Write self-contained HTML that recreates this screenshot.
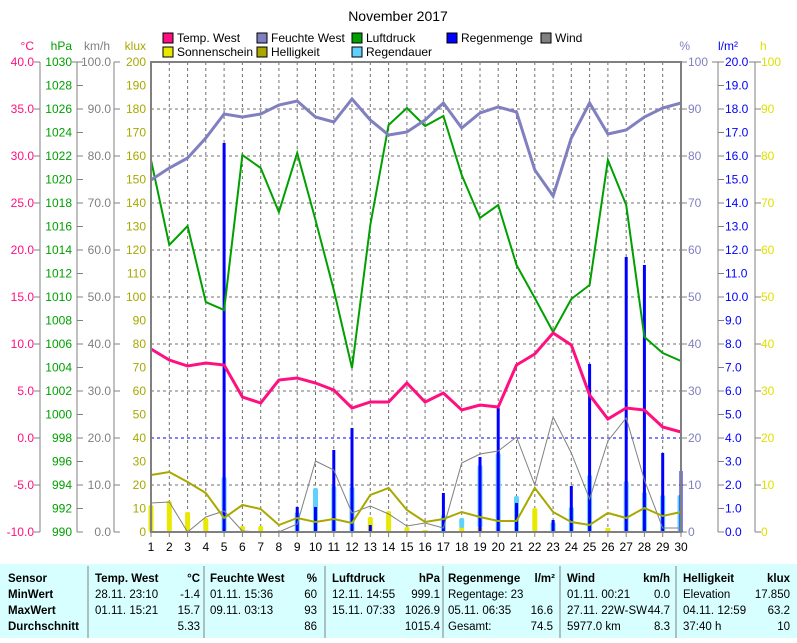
<!DOCTYPE html>
<html><head><meta charset="utf-8"><style>
body{margin:0;background:#fff;width:797px;height:638px;overflow:hidden}
svg text{font-family:"Liberation Sans",sans-serif;font-size:12px}
.t text{font-family:"Liberation Sans Narrow","Liberation Sans",sans-serif;font-size:11.5px}
</style></head><body>
<svg width="797" height="638" xmlns="http://www.w3.org/2000/svg">
<text x="398" y="21" text-anchor="middle" font-size="14" style="font-size:14px">November 2017</text>
<g font-size="12">
<rect x="163" y="33" width="10" height="10" fill="#ff1080" stroke="#000"/><text x="177" y="42">Temp. West</text>
<rect x="257" y="33" width="10" height="10" fill="#8080c0" stroke="#000"/><text x="271" y="42">Feuchte West</text>
<rect x="352" y="33" width="10" height="10" fill="#00a000" stroke="#000"/><text x="366" y="42">Luftdruck</text>
<rect x="447" y="33" width="10" height="10" fill="#0000ff" stroke="#000"/><text x="461" y="42">Regenmenge</text>
<rect x="541" y="33" width="10" height="10" fill="#808080" stroke="#000"/><text x="555" y="42">Wind</text>
<rect x="163" y="47" width="10" height="10" fill="#e8e800" stroke="#000"/><text x="177" y="56">Sonnenschein</text>
<rect x="257" y="47" width="10" height="10" fill="#a8a800" stroke="#000"/><text x="271" y="56">Helligkeit</text>
<rect x="352" y="47" width="10" height="10" fill="#60d0ff" stroke="#000"/><text x="366" y="56">Regendauer</text>
</g>
<text x="34" y="50" text-anchor="end" fill="#ff1080">°C</text>
<text x="72" y="50" text-anchor="end" fill="#00a000">hPa</text>
<text x="110" y="50" text-anchor="end" fill="#808080">km/h</text>
<text x="146" y="50" text-anchor="end" fill="#a8a800">klux</text>
<text x="690" y="50" text-anchor="end" fill="#8080c0">%</text>
<text x="738" y="50" text-anchor="end" fill="#0000ff">l/m²</text>
<text x="760" y="50" fill="#e0e000">h</text>
<g stroke="#707070" stroke-dasharray="3,3" stroke-width="1">
<path d="M151 109H681M151 156H681M151 203H681M151 250H681M151 297H681M151 344H681M151 391H681M151 485H681"/>
<path d="M169.3 62V532M187.6 62V532M205.8 62V532M224.1 62V532M242.4 62V532M260.7 62V532M278.9 62V532M297.2 62V532M315.5 62V532M333.8 62V532M352 62V532M370.3 62V532M388.6 62V532M406.9 62V532M425.1 62V532M443.4 62V532M461.7 62V532M480 62V532M498.2 62V532M516.5 62V532M534.8 62V532M553.1 62V532M571.3 62V532M589.6 62V532M607.9 62V532M626.2 62V532M644.4 62V532M662.7 62V532"/>
</g>
<path d="M151 438H681" stroke="#0000ff" stroke-dasharray="3,3"/>
<g stroke="#808080" fill="none">
<path d="M40 62V532M77 62V532M114 62V532M718 62V532M755 62V532"/>
<path d="M34 62h6M34 109h6M34 156h6M34 203h6M34 250h6M34 297h6M34 344h6M34 391h6M34 438h6M34 485h6M34 532h6"/>
<path d="M72 62h11M77 85.5h6M77 109h6M77 132.5h6M77 156h6M77 179.5h6M77 203h6M77 226.5h6M77 250h6M77 273.5h6M77 297h6M77 320.5h6M77 344h6M77 367.5h6M77 391h6M77 414.5h6M77 438h6M77 461.5h6M77 485h6M77 508.5h6M77 532h6"/>
<path d="M114 62h6M114 109h6M114 156h6M114 203h6M114 250h6M114 297h6M114 344h6M114 391h6M114 438h6M114 485h6M114 532h6"/>
<path d="M681 62h6M681 109h6M681 156h6M681 203h6M681 250h6M681 297h6M681 344h6M681 391h6M681 438h6M681 485h6M681 532h6"/>
<path d="M712 62h12M718 85.5h6M718 109h6M718 132.5h6M718 156h6M718 179.5h6M718 203h6M718 226.5h6M718 250h6M718 273.5h6M718 297h6M718 320.5h6M718 344h6M718 367.5h6M718 391h6M718 414.5h6M718 438h6M718 461.5h6M718 485h6M718 508.5h6M718 532h6"/>
<path d="M749 62h12M755 109h6M755 156h6M755 203h6M755 250h6M755 297h6M755 344h6M755 391h6M755 438h6M755 485h6M755 532h6"/>
</g>
<g text-anchor="end" fill="#ff1080">
<text x="34" y="66">40.0</text><text x="34" y="113">35.0</text><text x="34" y="160">30.0</text><text x="34" y="207">25.0</text><text x="34" y="254">20.0</text><text x="34" y="301">15.0</text><text x="34" y="348">10.0</text><text x="34" y="395">5.0</text><text x="34" y="442">0.0</text><text x="34" y="489">-5.0</text><text x="34" y="536">-10.0</text>
</g>
<g text-anchor="end" fill="#00a000">
<text x="72" y="66">1030</text><text x="72" y="89.5">1028</text><text x="72" y="113">1026</text><text x="72" y="136.5">1024</text><text x="72" y="160">1022</text><text x="72" y="183.5">1020</text><text x="72" y="207">1018</text><text x="72" y="230.5">1016</text><text x="72" y="254">1014</text><text x="72" y="277.5">1012</text><text x="72" y="301">1010</text><text x="72" y="324.5">1008</text><text x="72" y="348">1006</text><text x="72" y="371.5">1004</text><text x="72" y="395">1002</text><text x="72" y="418.5">1000</text><text x="72" y="442">998</text><text x="72" y="465.5">996</text><text x="72" y="489">994</text><text x="72" y="512.5">992</text><text x="72" y="536">990</text>
</g>
<g text-anchor="end" fill="#808080">
<text x="111" y="66">100.0</text><text x="111" y="113">90.0</text><text x="111" y="160">80.0</text><text x="111" y="207">70.0</text><text x="111" y="254">60.0</text><text x="111" y="301">50.0</text><text x="111" y="348">40.0</text><text x="111" y="395">30.0</text><text x="111" y="442">20.0</text><text x="111" y="489">10.0</text><text x="111" y="536">0.0</text>
</g>
<g text-anchor="end" fill="#a8a800">
<text x="146" y="66">200</text><text x="146" y="89.5">190</text><text x="146" y="113">180</text><text x="146" y="136.5">170</text><text x="146" y="160">160</text><text x="146" y="183.5">150</text><text x="146" y="207">140</text><text x="146" y="230.5">130</text><text x="146" y="254">120</text><text x="146" y="277.5">110</text><text x="146" y="301">100</text><text x="146" y="324.5">90</text><text x="146" y="348">80</text><text x="146" y="371.5">70</text><text x="146" y="395">60</text><text x="146" y="418.5">50</text><text x="146" y="442">40</text><text x="146" y="465.5">30</text><text x="146" y="489">20</text><text x="146" y="512.5">10</text><text x="146" y="536">0</text>
</g>
<g fill="#8080c0">
<text x="688" y="66">100</text><text x="688" y="113">90</text><text x="688" y="160">80</text><text x="688" y="207">70</text><text x="688" y="254">60</text><text x="688" y="301">50</text><text x="688" y="348">40</text><text x="688" y="395">30</text><text x="688" y="442">20</text><text x="688" y="489">10</text><text x="688" y="536">0</text>
</g>
<g fill="#0000ff">
<text x="725" y="66">20.0</text><text x="725" y="89.5">19.0</text><text x="725" y="113">18.0</text><text x="725" y="136.5">17.0</text><text x="725" y="160">16.0</text><text x="725" y="183.5">15.0</text><text x="725" y="207">14.0</text><text x="725" y="230.5">13.0</text><text x="725" y="254">12.0</text><text x="725" y="277.5">11.0</text><text x="725" y="301">10.0</text><text x="725" y="324.5">9.0</text><text x="725" y="348">8.0</text><text x="725" y="371.5">7.0</text><text x="725" y="395">6.0</text><text x="725" y="418.5">5.0</text><text x="725" y="442">4.0</text><text x="725" y="465.5">3.0</text><text x="725" y="489">2.0</text><text x="725" y="512.5">1.0</text><text x="725" y="536">0.0</text>
</g>
<g fill="#e0e000">
<text x="761" y="66">100</text><text x="761" y="113">90</text><text x="761" y="160">80</text><text x="761" y="207">70</text><text x="761" y="254">60</text><text x="761" y="301">50</text><text x="761" y="348">40</text><text x="761" y="395">30</text><text x="761" y="442">20</text><text x="761" y="489">10</text><text x="761" y="536">0</text>
</g>
<g fill="#e8e800">
<rect x="148.5" y="505" width="5" height="27" rx="2"/><rect x="166.8" y="501" width="5" height="31" rx="2"/><rect x="185.1" y="512" width="5" height="20" rx="2"/><rect x="203.3" y="518" width="5" height="14" rx="2"/><rect x="239.9" y="526" width="5" height="6" rx="2"/><rect x="258.2" y="526" width="5" height="6" rx="2"/><rect x="367.8" y="517" width="5" height="15" rx="2"/><rect x="386.1" y="511" width="5" height="21" rx="2"/><rect x="404.4" y="527" width="5" height="5" rx="2"/><rect x="422.6" y="530" width="5" height="2"/><rect x="459.2" y="526" width="5" height="6" rx="2"/><rect x="477.5" y="528" width="5" height="4"/><rect x="532.3" y="508" width="5" height="24" rx="2"/><rect x="550.6" y="523" width="5" height="9"/><rect x="605.4" y="528" width="5" height="4"/><rect x="641.9" y="526" width="5" height="6"/><rect x="660.2" y="529" width="5" height="3"/>
</g>
<g fill="#60d0ff">
<rect x="221.6" y="477" width="5" height="55" rx="2"/><rect x="294.7" y="512" width="5" height="20" rx="2"/><rect x="313" y="488" width="5" height="44" rx="2"/><rect x="331.3" y="486" width="5" height="46" rx="2"/><rect x="349.5" y="487" width="5" height="45" rx="2"/><rect x="440.9" y="515" width="5" height="17" rx="2"/><rect x="459.2" y="518" width="5" height="10" rx="2"/><rect x="477.5" y="465" width="5" height="63" rx="2"/><rect x="495.7" y="453" width="5" height="79" rx="2"/><rect x="514" y="496" width="5" height="36" rx="2"/><rect x="550.6" y="522" width="5" height="10" rx="2"/><rect x="568.8" y="507" width="5" height="25" rx="2"/><rect x="587.1" y="475" width="5" height="57" rx="2"/><rect x="623.7" y="481" width="5" height="51" rx="2"/><rect x="641.9" y="492" width="5" height="40" rx="2"/><rect x="660.2" y="495" width="5" height="37" rx="2"/><rect x="677.5" y="495" width="5" height="37" rx="2"/>
</g>
<g fill="#0000ff">
<rect x="222.6" y="143" width="3" height="389"/><rect x="295.7" y="507" width="3" height="25"/><rect x="314" y="507" width="3" height="25"/><rect x="332.3" y="450" width="3" height="82"/><rect x="350.5" y="428" width="3" height="104"/><rect x="368.8" y="525" width="3" height="7"/><rect x="441.9" y="493" width="3" height="39"/><rect x="478.5" y="457" width="3" height="75"/><rect x="496.7" y="408" width="3" height="124"/><rect x="515" y="503" width="3" height="29"/><rect x="551.6" y="520" width="3" height="12"/><rect x="569.8" y="486" width="3" height="46"/><rect x="588.1" y="364" width="3" height="168"/><rect x="624.7" y="257" width="3" height="275"/><rect x="642.9" y="265" width="3" height="267"/><rect x="661.2" y="453" width="3" height="79"/><rect x="679.5" y="471" width="3" height="61"/>
</g>
<polyline fill="none" stroke="#808080" stroke-width="1" points="151,503 169.3,502 187.6,532 205.8,517 224.1,511 242.4,531 260.7,532 278.9,532 297.2,524 315.5,461 333.8,470 352,513 370.3,506 388.6,514 406.9,526 425.1,523 443.4,528 461.7,463 480,454 498.2,451 516.5,437 534.8,485 553.1,417 571.3,453 589.6,499 607.9,441 626.2,418 644.4,480 662.7,528 681,528"/>
<polyline fill="none" stroke="#a8a800" stroke-width="2" points="151,475 169.3,472 187.6,482 205.8,493 224.1,518 242.4,505 260.7,509 278.9,525 297.2,518 315.5,522 333.8,519 352,523 370.3,495 388.6,488 406.9,510 425.1,522 443.4,519 461.7,512 480,517 498.2,521 516.5,521 534.8,488 553.1,512 571.3,522 589.6,525 607.9,513 626.2,518 644.4,508 662.7,516 681,512"/>
<polyline fill="none" stroke="#00a000" stroke-width="2" points="151,160 169.3,245 187.6,226 205.8,302 224.1,310 242.4,155 260.7,168 278.9,212 297.2,153 315.5,220 333.8,290 352,368 370.3,225 388.6,125 406.9,108 425.1,126 443.4,116 461.7,175 480,218 498.2,205 516.5,265 534.8,298 553.1,332 571.3,299 589.6,285 607.9,160 626.2,205 644.4,337 662.7,353 681,361"/>
<polyline fill="none" stroke="#8080c0" stroke-width="3" points="151,180 169.3,168 187.6,158 205.8,138 224.1,114 242.4,117 260.7,114 278.9,105 297.2,101 315.5,117 333.8,122 352,99 370.3,120 388.6,135 406.9,132 425.1,120 443.4,103 461.7,128 480,113 498.2,107 516.5,112 534.8,170 553.1,196 571.3,138 589.6,103 607.9,134 626.2,130 644.4,117 662.7,108 681,103"/>
<polyline fill="none" stroke="#ff1080" stroke-width="3" points="151,349 169.3,360 187.6,366 205.8,363 224.1,365 242.4,397 260.7,403 278.9,380 297.2,378 315.5,383 333.8,390 352,408 370.3,402 388.6,402 406.9,383 425.1,402 443.4,393 461.7,410 480,405 498.2,407 516.5,365 534.8,354 553.1,333 571.3,345 589.6,395 607.9,419 626.2,408 644.4,410 662.7,427 681,432"/>
<rect x="151" y="62" width="530" height="470" fill="none" stroke="#808080" stroke-width="2"/>
<g stroke="#808080"><path d="M151 532v5M169.3 532v5M187.6 532v5M205.8 532v5M224.1 532v5M242.4 532v5M260.7 532v5M278.9 532v5M297.2 532v5M315.5 532v5M333.8 532v5M352 532v5M370.3 532v5M388.6 532v5M406.9 532v5M425.1 532v5M443.4 532v5M461.7 532v5M480 532v5M498.2 532v5M516.5 532v5M534.8 532v5M553.1 532v5M571.3 532v5M589.6 532v5M607.9 532v5M626.2 532v5M644.4 532v5M662.7 532v5M681 532v5"/></g>
<g text-anchor="middle">
<text x="151" y="551">1</text><text x="169.3" y="551">2</text><text x="187.6" y="551">3</text><text x="205.8" y="551">4</text><text x="224.1" y="551">5</text><text x="242.4" y="551">6</text><text x="260.7" y="551">7</text><text x="278.9" y="551">8</text><text x="297.2" y="551">9</text><text x="315.5" y="551">10</text><text x="333.8" y="551">11</text><text x="352" y="551">12</text><text x="370.3" y="551">13</text><text x="388.6" y="551">14</text><text x="406.9" y="551">15</text><text x="425.1" y="551">16</text><text x="443.4" y="551">17</text><text x="461.7" y="551">18</text><text x="480" y="551">19</text><text x="498.2" y="551">20</text><text x="516.5" y="551">21</text><text x="534.8" y="551">22</text><text x="553.1" y="551">23</text><text x="571.3" y="551">24</text><text x="589.6" y="551">25</text><text x="607.9" y="551">26</text><text x="626.2" y="551">27</text><text x="644.4" y="551">28</text><text x="662.7" y="551">29</text><text x="681" y="551">30</text>
</g>
<rect x="0" y="564" width="797" height="74" fill="#d8ffff"/>
<g stroke="#808080"><path d="M88 566V638M204 566V638M325 566V638M443 566V638M560 566V638M676 566V638"/></g>
<g class="t">
<g font-weight="bold"><text x="8" y="582">Sensor</text><text x="8" y="598">MinWert</text><text x="8" y="614">MaxWert</text><text x="8" y="630">Durchschnitt</text>
<text x="95" y="582">Temp. West</text><text x="200" y="582" text-anchor="end">°C</text>
<text x="210" y="582">Feuchte West</text><text x="317" y="582" text-anchor="end">%</text>
<text x="332" y="582">Luftdruck</text><text x="440" y="582" text-anchor="end">hPa</text>
<text x="448" y="582">Regenmenge</text><text x="555" y="582" text-anchor="end">l/m²</text>
<text x="567" y="582">Wind</text><text x="670" y="582" text-anchor="end">km/h</text>
<text x="683" y="582">Helligkeit</text><text x="790" y="582" text-anchor="end">klux</text></g>
<text x="95" y="598">28.11.  23:10</text><text x="200" y="598" text-anchor="end">-1.4</text>
<text x="95" y="614">01.11.  15:21</text><text x="200" y="614" text-anchor="end">15.7</text>
<text x="200" y="630" text-anchor="end">5.33</text>
<text x="210" y="598">01.11.  15:36</text><text x="317" y="598" text-anchor="end">60</text>
<text x="210" y="614">09.11.  03:13</text><text x="317" y="614" text-anchor="end">93</text>
<text x="317" y="630" text-anchor="end">86</text>
<text x="332" y="598">12.11.  14:55</text><text x="440" y="598" text-anchor="end">999.1</text>
<text x="332" y="614">15.11.  07:33</text><text x="440" y="614" text-anchor="end">1026.9</text>
<text x="440" y="630" text-anchor="end">1015.4</text>
<text x="448" y="598">Regentage: 23</text>
<text x="448" y="614">05.11.  06:35</text><text x="553" y="614" text-anchor="end">16.6</text>
<text x="448" y="630">Gesamt:</text><text x="553" y="630" text-anchor="end">74.5</text>
<text x="567" y="598">01.11.  00:21</text><text x="670" y="598" text-anchor="end">0.0</text>
<text x="567" y="614" textLength="80" lengthAdjust="spacingAndGlyphs">27.11.  22W-SW</text><text x="670" y="614" text-anchor="end">44.7</text>
<text x="567" y="630">5977.0 km</text><text x="670" y="630" text-anchor="end">8.3</text>
<text x="683" y="598">Elevation</text><text x="790" y="598" text-anchor="end">17.850</text>
<text x="683" y="614">04.11.  12:59</text><text x="790" y="614" text-anchor="end">63.2</text>
<text x="683" y="630">37:40 h</text><text x="790" y="630" text-anchor="end">10</text>
</g>
</svg>
</body></html>
